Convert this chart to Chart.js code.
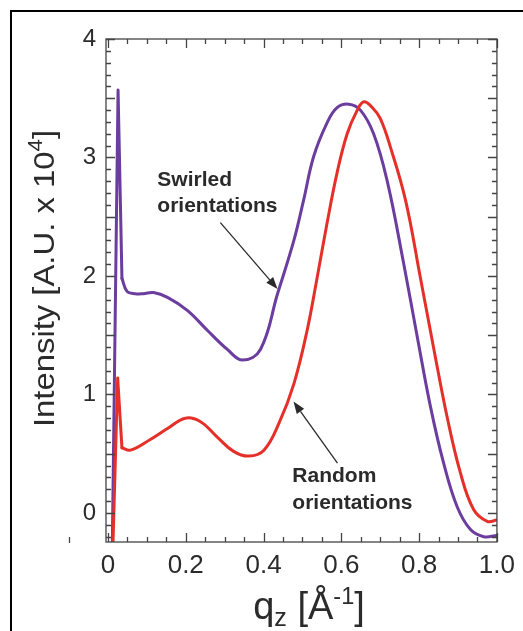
<!DOCTYPE html>
<html>
<head>
<meta charset="utf-8">
<script src="https://cdn.jsdelivr.net/npm/chart.js@4.4.0/dist/chart.umd.min.js"></script>
<style>
  html, body { margin: 0; padding: 0; background: #fff; }
  #wrap { width: 523px; height: 631px; }
</style>
</head>
<body>
<div id="wrap"><canvas id="chart" width="523" height="631"></canvas></div>
<script>
// --------- Data --------

const swirledQ = [0.010, 0.026, 0.036, 0.049, 0.070, 0.091, 0.117, 0.153, 0.204, 0.256, 0.307, 0.346, 0.392, 0.436, 0.478, 0.503, 0.529, 0.563, 0.589, 0.619, 0.649, 0.683, 0.718, 0.760, 0.795, 0.829, 0.863, 0.898, 0.932, 0.966, 1.000];
const swirledI = [-0.60, 3.57, 1.98, 1.87, 1.85, 1.85, 1.86, 1.82, 1.71, 1.54, 1.38, 1.29, 1.38, 1.85, 2.30, 2.64, 3.01, 3.29, 3.42, 3.45, 3.40, 3.20, 2.80, 2.11, 1.49, 0.90, 0.42, 0.05, -0.14, -0.20, -0.19];

const randomQ = [0.010, 0.025, 0.036, 0.058, 0.109, 0.152, 0.199, 0.238, 0.281, 0.323, 0.362, 0.401, 0.440, 0.478, 0.512, 0.538, 0.563, 0.589, 0.615, 0.641, 0.658, 0.680, 0.700, 0.726, 0.765, 0.803, 0.838, 0.872, 0.906, 0.940, 0.975, 1.000];
const randomI = [-0.60, 1.14, 0.55, 0.53, 0.62, 0.71, 0.80, 0.77, 0.64, 0.52, 0.48, 0.53, 0.76, 1.09, 1.54, 1.99, 2.44, 2.87, 3.20, 3.40, 3.47, 3.42, 3.33, 3.09, 2.64, 1.99, 1.38, 0.81, 0.34, 0.03, -0.07, -0.06];

// the sharp low-q spike (first points) is drawn straight, the rest smoothed
const spikeEnd = 2;

const xTickLabels = [0, 0.2, 0.4, 0.6, 0.8, 1.0];
const yTickLabels = [0, 1, 2, 3, 4];

// annotation text + arrows, in data units
const notes = [
    { lines: ['Swirled', 'orientations'], q: 0.127, i: [2.81, 2.59], from: [0.289, 2.45], to: [0.436, 1.89] },
    { lines: ['Random', 'orientations'], q: 0.474, i: [0.31, 0.08], from: [0.590, 0.42], to: [0.477, 0.94] }
];

const toPoints = (qs, is) => qs.map((q, k) => ({ x: q, y: is[k] }));

const FONT = "'Liberation Sans', Arial, Helvetica, sans-serif";
const PURPLE = '#6a3d9e';
const RED = '#e5302a';
const INK = '#2b2b2b';

// --------- Frame, inward ticks, titles, notes --------

const decorPlugin = {
    id: 'decor',
    afterDatasetsDraw(chart) {
        const { ctx, chartArea: a, scales: { x, y } } = chart;
        ctx.save();
        ctx.strokeStyle = '#444';
        ctx.lineWidth = 1.3;
        ctx.strokeRect(a.left, a.top, a.right - a.left, a.bottom - a.top);

        ctx.beginPath();
        for (let k = 0; k <= 20; k++) {
            const v = k * 0.05;
            const px = Math.round(x.getPixelForValue(v)) + 0.5;
            const len = (k % 4 === 0) ? 9 : 5;
            ctx.moveTo(px, a.bottom); ctx.lineTo(px, a.bottom - len);
            ctx.moveTo(px, a.top); ctx.lineTo(px, a.top + len);
        }
        for (let k = -2; k <= 40; k++) {
            const v = k * 0.1;
            const py = Math.round(y.getPixelForValue(v)) + 0.5;
            const len = (k % 5 === 0) ? 9 : 5;
            ctx.moveTo(a.left, py); ctx.lineTo(a.left + len, py);
            ctx.moveTo(a.right, py); ctx.lineTo(a.right - len, py);
        }
        // small stray mark left of the axis, as in the scan
        ctx.moveTo(69.5, 537); ctx.lineTo(69.5, 543);
        ctx.stroke();
        ctx.restore();
    },
    afterDraw(chart) {
        const { ctx, scales: { x, y } } = chart;
        ctx.save();

        // outer frame (top and left edges only)
        ctx.strokeStyle = '#000';
        ctx.lineWidth = 2;
        ctx.beginPath();
        ctx.moveTo(11, 631); ctx.lineTo(11, 11); ctx.lineTo(523, 11);
        ctx.stroke();

        ctx.fillStyle = INK;
        ctx.textBaseline = 'alphabetic';

        // y title, rotated
        const fs = 29;
        const runsY = [
            { t: 'Intensity [A.U. x 10', s: fs, dy: 0 },
            { t: '4', s: fs * 0.68, dy: -fs * 0.42 },
            { t: ']', s: fs, dy: 0 }
        ];
        let w = 0;
        runsY.forEach(r => { ctx.font = r.s + 'px ' + FONT; r.w = ctx.measureText(r.t).width; w += r.w; });
        ctx.save();
        ctx.translate(54, 278.5);
        ctx.rotate(-Math.PI / 2);
        ctx.scale(297 / w, 1);
        let cx = -w / 2;
        runsY.forEach(r => { ctx.font = r.s + 'px ' + FONT; ctx.fillText(r.t, cx, r.dy); cx += r.w; });
        ctx.restore();

        // x title
        const fx = 38;
        const runsX = [
            { t: 'q', s: fx, dy: 0 },
            { t: 'z', s: fx * 0.66, dy: fx * 0.18 },
            { t: ' [Å', s: fx, dy: 0 },
            { t: '-1', s: fx * 0.62, dy: -fx * 0.4 },
            { t: ']', s: fx, dy: 0 }
        ];
        w = 0;
        runsX.forEach(r => { ctx.font = r.s + 'px ' + FONT; r.w = ctx.measureText(r.t).width; w += r.w; });
        cx = 309 - w / 2;
        runsX.forEach(r => { ctx.font = r.s + 'px ' + FONT; ctx.fillText(r.t, cx, 619 + r.dy); cx += r.w; });

        // notes
        ctx.font = 'bold 21px ' + FONT;
        ctx.textBaseline = 'middle';
        ctx.fillStyle = '#2a2a2a';
        notes.forEach(n => {
            n.lines.forEach((line, k) => ctx.fillText(line, x.getPixelForValue(n.q), y.getPixelForValue(n.i[k])));
            const x0 = x.getPixelForValue(n.from[0]), y0 = y.getPixelForValue(n.from[1]);
            const x1 = x.getPixelForValue(n.to[0]), y1 = y.getPixelForValue(n.to[1]);
            const ang = Math.atan2(y1 - y0, x1 - x0);
            const hl = 12, hw = 4.5;
            const bx = x1 - hl * Math.cos(ang), by = y1 - hl * Math.sin(ang);
            ctx.strokeStyle = '#2a2a2a';
            ctx.lineWidth = 1.3;
            ctx.beginPath(); ctx.moveTo(x0, y0); ctx.lineTo(bx, by); ctx.stroke();
            ctx.beginPath();
            ctx.moveTo(x1, y1);
            ctx.lineTo(bx + hw * Math.sin(ang), by - hw * Math.cos(ang));
            ctx.lineTo(bx - hw * Math.sin(ang), by + hw * Math.cos(ang));
            ctx.closePath();
            ctx.fill();
        });
        ctx.restore();
    }
};

// --------- Chart --------

const lineStyle = (color, tension) => ({
    borderColor: color,
    borderWidth: 3,
    pointRadius: 0,
    tension: tension,
    borderJoinStyle: 'round',
    borderCapStyle: 'round'
});

const ctx = document.getElementById('chart').getContext('2d');
const chart = new Chart(ctx, {
    type: 'line',
    data: {
        datasets: [
            Object.assign({ label: 'Random orientations', data: toPoints(randomQ.slice(spikeEnd), randomI.slice(spikeEnd)) }, lineStyle(RED, 0.4)),
            Object.assign({ label: 'Random spike', data: toPoints(randomQ.slice(0, spikeEnd + 1), randomI.slice(0, spikeEnd + 1)) }, lineStyle(RED, 0)),
            Object.assign({ label: 'Swirled orientations', data: toPoints(swirledQ.slice(spikeEnd), swirledI.slice(spikeEnd)) }, lineStyle(PURPLE, 0.4)),
            Object.assign({ label: 'Swirled spike', data: toPoints(swirledQ.slice(0, spikeEnd + 1), swirledI.slice(0, spikeEnd + 1)) }, lineStyle(PURPLE, 0))
        ]
    },
    options: {
        responsive: false,
        animation: false,
        devicePixelRatio: 1,
        layout: { padding: { top: 39, right: 26, left: 0, bottom: 0 } },
        plugins: { legend: { display: false }, tooltip: { enabled: false } },
        scales: {
            x: {
                type: 'linear',
                min: -0.005,
                max: 1.0,
                grid: { display: false, drawTicks: false },
                border: { display: false },
                afterBuildTicks: s => { s.ticks = xTickLabels.map(v => ({ value: v })); },
                afterFit: s => { s.height = 89; },
                ticks: {
                    font: { family: FONT, size: 26 },
                    color: INK,
                    padding: 8,
                    maxRotation: 0,
                    autoSkip: false,
                    callback: v => v === 0 ? '0' : v.toFixed(1)
                }
            },
            y: {
                type: 'linear',
                min: -0.245,
                max: 4,
                grid: { display: false, drawTicks: false },
                border: { display: false },
                afterBuildTicks: s => { s.ticks = yTickLabels.map(v => ({ value: v })); },
                afterFit: s => { s.width = 106; },
                ticks: {
                    font: { family: FONT, size: 24 },
                    color: INK,
                    padding: 10,
                    callback: v => String(v)
                }
            }
        }
    },
    plugins: [decorPlugin]
});
</script>
</body>
</html>
